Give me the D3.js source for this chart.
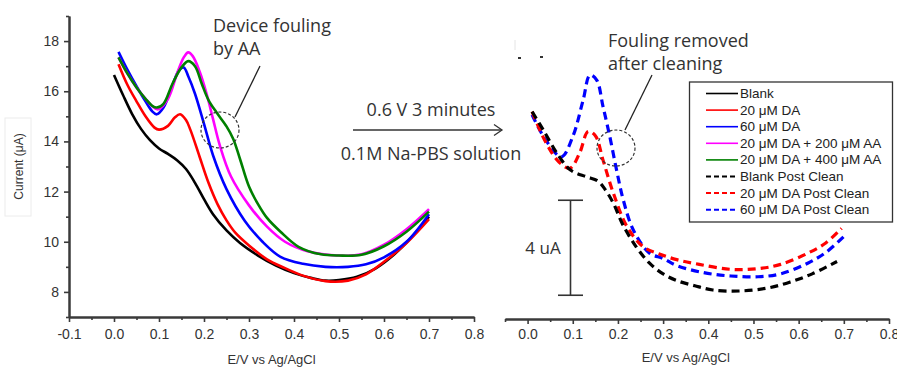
<!DOCTYPE html>
<html>
<head>
<meta charset="utf-8">
<script src="https://cdn.jsdelivr.net/npm/d3@7"></script>
<style>
  body { margin: 0; background: #fff; }
  svg { display: block; }
</style>
</head>
<body>
<svg id="chart" width="897" height="368"></svg>
<script>
// ---- Cyclic voltammetry data: potential (V vs Ag/AgCl) and current (µA) ----

// Before cleaning (solid lines)
const blankE = [0.00, 0.02, 0.04, 0.06, 0.08, 0.10, 0.12, 0.14, 0.16, 0.18, 0.20, 0.22, 0.25, 0.28, 0.32, 0.36, 0.40, 0.44, 0.47, 0.50, 0.54, 0.58, 0.62, 0.66, 0.70];
const blankI = [16.65, 15.85, 15.1, 14.5, 14.05, 13.72, 13.5, 13.25, 12.9, 12.35, 11.7, 11.1, 10.45, 9.95, 9.45, 9.05, 8.75, 8.55, 8.45, 8.47, 8.6, 8.92, 9.45, 10.15, 11.0];

const da20E = [0.01, 0.03, 0.05, 0.07, 0.09, 0.10, 0.12, 0.135, 0.147, 0.16, 0.17, 0.19, 0.21, 0.23, 0.25, 0.27, 0.30, 0.34, 0.38, 0.42, 0.47, 0.52, 0.56, 0.60, 0.65, 0.70];
const da20I = [17.08, 16.25, 15.6, 15.0, 14.55, 14.47, 14.62, 14.95, 15.08, 14.85, 14.45, 13.4, 12.35, 11.5, 10.85, 10.35, 9.85, 9.3, 8.95, 8.65, 8.43, 8.45, 8.7, 9.2, 9.95, 10.9];

const da60E = [0.01, 0.03, 0.05, 0.07, 0.085, 0.095, 0.11, 0.13, 0.145, 0.155, 0.165, 0.18, 0.20, 0.22, 0.25, 0.29, 0.33, 0.37, 0.42, 0.47, 0.52, 0.56, 0.60, 0.65, 0.70];
const da60I = [17.57, 16.85, 16.2, 15.6, 15.2, 15.08, 15.35, 16.25, 16.85, 16.95, 16.6, 15.9, 14.7, 13.45, 12.1, 10.85, 10.0, 9.4, 9.12, 9.0, 9.0, 9.1, 9.38, 10.0, 11.1];

const aa200E = [0.01, 0.03, 0.05, 0.07, 0.085, 0.098, 0.12, 0.14, 0.155, 0.165, 0.175, 0.19, 0.205, 0.22, 0.235, 0.26, 0.30, 0.34, 0.38, 0.43, 0.50, 0.55, 0.60, 0.65, 0.70];
const aa200I = [17.35, 16.7, 16.15, 15.7, 15.4, 15.28, 15.7, 16.7, 17.35, 17.55, 17.4, 16.8, 15.95, 14.9, 13.85, 12.6, 11.45, 10.6, 10.0, 9.62, 9.45, 9.5, 9.88, 10.5, 11.3];

const aa400E = [0.01, 0.03, 0.05, 0.07, 0.085, 0.095, 0.11, 0.13, 0.15, 0.165, 0.18, 0.195, 0.21, 0.228, 0.25, 0.265, 0.28, 0.30, 0.32, 0.34, 0.37, 0.41, 0.46, 0.50, 0.55, 0.60, 0.65, 0.70];
const aa400I = [17.35, 16.7, 16.15, 15.7, 15.42, 15.35, 15.5, 16.3, 16.95, 17.2, 17.0, 16.3, 15.65, 15.15, 14.6, 14.1, 13.3, 12.2, 11.5, 10.95, 10.4, 9.8, 9.5, 9.45, 9.48, 9.82, 10.4, 11.2];

// After 0.6 V cleaning (dashed lines)
const blankPostE = [0.01, 0.035, 0.065, 0.095, 0.13, 0.155, 0.17, 0.19, 0.21, 0.24, 0.27, 0.30, 0.33, 0.37, 0.41, 0.47, 0.53, 0.58, 0.63, 0.685];
const blankPostI = [15.73, 14.95, 13.98, 13.27, 12.99, 12.82, 12.5, 11.87, 11.0, 10.05, 9.35, 8.9, 8.62, 8.4, 8.22, 8.18, 8.3, 8.55, 8.9, 9.42];

const da20PostE = [0.01, 0.04, 0.07, 0.094, 0.115, 0.134, 0.15, 0.167, 0.19, 0.22, 0.256, 0.29, 0.33, 0.38, 0.45, 0.51, 0.56, 0.62, 0.66, 0.695];
const da20PostI = [15.73, 14.45, 13.6, 13.35, 13.98, 14.89, 14.72, 13.69, 12.29, 10.89, 10.04, 9.75, 9.5, 9.3, 9.09, 9.12, 9.3, 9.77, 10.2, 10.82];

const da60PostE = [0.01, 0.04, 0.075, 0.10, 0.123, 0.138, 0.153, 0.167, 0.182, 0.197, 0.212, 0.234, 0.27, 0.30, 0.33, 0.39, 0.45, 0.51, 0.56, 0.62, 0.66, 0.70];
const da60PostI = [15.6, 14.54, 13.83, 14.68, 16.22, 17.27, 17.06, 15.94, 14.68, 13.27, 12.0, 10.75, 9.77, 9.55, 9.25, 8.95, 8.81, 8.78, 8.9, 9.35, 9.8, 10.47];

// Axis ticks
const xMajorTicks = [-0.1, 0.0, 0.1, 0.2, 0.3, 0.4, 0.5, 0.6, 0.7, 0.8];
const xTickLabels = ["-0.1", "0.0", "0.1", "0.2", "0.3", "0.4", "0.5", "0.6", "0.7", "0.8"];
const xMinorTicks = [-0.05, 0.05, 0.15, 0.25, 0.35, 0.45, 0.55, 0.65, 0.75];
const yMajorTicks = [8, 10, 12, 14, 16, 18];
const yMinorTicks = [7, 9, 11, 13, 15, 17, 19];

// Legend entries
const legendLabels = ["Blank", "20 μM DA", "60 μM DA", "20 μM DA + 200 μM AA", "20 μM DA + 400 μM AA",
                      "Blank Post Clean", "20 μM DA Post Clean", "60 μM DA Post Clean"];
const legendColors = ["#000000", "#ff0000", "#0000ff", "#ff00ff", "#008000", "#000000", "#ff0000", "#0000ff"];
const legendDashed = [false, false, false, false, false, true, true, true];

// Scale bar value (µA)
const scaleBarFrom = 8, scaleBarTo = 12;

// ---- Drawing ----
const svg = d3.select("#chart");
const axisColor = "#3a3a3a";
const textColor = "#333";
const tickFont = "'Liberation Sans', Arial, sans-serif";
const noteFont = "'Open Sans', 'Noto Sans', sans-serif";
const noteSize = "18px";

const xL = d3.scaleLinear().domain([-0.1, 0.8]).range([69, 474]);
const yL = d3.scaleLinear().domain([7, 19]).range([317, 16]);
const xR = d3.scaleLinear().domain([-0.05, 0.8]).range([505, 889]);
const yR = d3.scaleLinear().domain([7, 19]).range([319, 34]);

function styleAxis(g, fontSize) {
  g.select(".domain").attr("stroke", axisColor).attr("stroke-width", 2);
  g.selectAll(".tick line").attr("stroke", axisColor).attr("stroke-width", 1.6);
  g.selectAll(".tick text").attr("fill", textColor)
    .style("font-family", tickFont).style("font-size", fontSize + "px");
}

// Left panel: x axis
const xAxisL = svg.append("g").attr("transform", `translate(0,${yL(7)})`)
  .call(d3.axisBottom(xL).tickValues(xMajorTicks).tickSize(5).tickSizeOuter(0).tickPadding(7)
    .tickFormat((d, i) => xTickLabels[i]));
styleAxis(xAxisL, 14);
const xMinorL = svg.append("g").attr("transform", `translate(0,${yL(7)})`)
  .call(d3.axisBottom(xL).tickValues(xMinorTicks).tickSize(3).tickSizeOuter(0).tickFormat(""));
styleAxis(xMinorL, 14);

// Left panel: y axis
const yAxisL = svg.append("g").attr("transform", `translate(${xL(-0.1)},0)`)
  .call(d3.axisLeft(yL).tickValues(yMajorTicks).tickSize(5).tickSizeOuter(0).tickPadding(5));
styleAxis(yAxisL, 14);
const yMinorL = svg.append("g").attr("transform", `translate(${xL(-0.1)},0)`)
  .call(d3.axisLeft(yL).tickValues(yMinorTicks).tickSize(3).tickSizeOuter(0).tickFormat(""));
styleAxis(yMinorL, 14);

// Right panel: x axis only
const xAxisR = svg.append("g").attr("transform", `translate(0,${yR(7)})`)
  .call(d3.axisBottom(xR).tickValues(xMajorTicks.slice(1)).tickSize(5).tickSizeOuter(0).tickPadding(5)
    .tickFormat((d, i) => xTickLabels[i + 1]));
styleAxis(xAxisR, 14);
const xMinorR = svg.append("g").attr("transform", `translate(0,${yR(7)})`)
  .call(d3.axisBottom(xR).tickValues(xMinorTicks).tickSize(3).tickSizeOuter(0).tickFormat(""));
styleAxis(xMinorR, 14);

// Axis titles
svg.append("text").attr("x", (xL(-0.1) + xL(0.8)) / 2).attr("y", 364)
  .attr("text-anchor", "middle").attr("fill", textColor)
  .style("font-family", tickFont).style("font-size", "13px").text("E/V vs Ag/AgCl");
svg.append("text").attr("x", xR(0.35)).attr("y", 362)
  .attr("text-anchor", "middle").attr("fill", textColor)
  .style("font-family", tickFont).style("font-size", "13px").text("E/V vs Ag/AgCl");

svg.append("rect").attr("x", 5).attr("y", 118).attr("width", 26).attr("height", 98)
  .attr("fill", "none").attr("stroke", "#ececec").attr("stroke-width", 1);
svg.append("text").attr("transform", `translate(23,${(yL(7) + yL(19)) / 2}) rotate(-90)`)
  .attr("text-anchor", "middle").attr("fill", textColor)
  .style("font-family", tickFont).style("font-size", "12px").text("Current (μA)");

// Curves
function drawCurve(xs, ys, E, I, color, dashed) {
  const pts = E.map((e, i) => [e, I[i]]);
  const line = d3.line().x(d => xs(d[0])).y(d => ys(d[1])).curve(d3.curveCatmullRom.alpha(0.5));
  svg.append("path").datum(pts).attr("d", line)
    .attr("fill", "none").attr("stroke", color)
    .attr("stroke-width", dashed ? 3.2 : 2.6)
    .attr("stroke-linejoin", "round")
    .attr("stroke-dasharray", dashed ? "8,5" : null);
}

drawCurve(xL, yL, blankE, blankI, legendColors[0], false);
drawCurve(xL, yL, da20E, da20I, legendColors[1], false);
drawCurve(xL, yL, da60E, da60I, legendColors[2], false);
drawCurve(xL, yL, aa200E, aa200I, legendColors[3], false);
drawCurve(xL, yL, aa400E, aa400I, legendColors[4], false);

drawCurve(xR, yR, da60PostE, da60PostI, legendColors[7], true);
drawCurve(xR, yR, da20PostE, da20PostI, legendColors[6], true);
drawCurve(xR, yR, blankPostE, blankPostI, legendColors[5], true);

// Annotations: fouling before cleaning
svg.append("ellipse").attr("cx", 220).attr("cy", 130).attr("rx", 19).attr("ry", 18)
  .attr("fill", "none").attr("stroke", "#333").attr("stroke-width", 1.2).attr("stroke-dasharray", "3,2");
svg.append("line").attr("x1", 235).attr("y1", 117).attr("x2", 260).attr("y2", 66)
  .attr("stroke", "#222").attr("stroke-width", 1.3);
svg.append("text").attr("x", 213).attr("y", 32).attr("fill", textColor)
  .style("font-family", noteFont).style("font-size", noteSize).text("Device fouling");
svg.append("text").attr("x", 213).attr("y", 55).attr("fill", textColor)
  .style("font-family", noteFont).style("font-size", noteSize).text("by AA");

// Treatment arrow
svg.append("line").attr("x1", 353).attr("y1", 130).attr("x2", 502).attr("y2", 130)
  .attr("stroke", "#333").attr("stroke-width", 1.3);
svg.append("path").attr("d", "M494,124.5 L502,130 L494,135.5")
  .attr("fill", "none").attr("stroke", "#333").attr("stroke-width", 1.3);
svg.append("text").attr("x", 431).attr("y", 116).attr("text-anchor", "middle").attr("fill", textColor)
  .style("font-family", noteFont).style("font-size", noteSize).text("0.6 V 3 minutes");
svg.append("text").attr("x", 431).attr("y", 160).attr("text-anchor", "middle").attr("fill", textColor)
  .style("font-family", noteFont).style("font-size", noteSize).text("0.1M Na-PBS solution");

// Small stray marks above the right panel
svg.append("line").attr("x1", 515).attr("y1", 40).attr("x2", 515).attr("y2", 50)
  .attr("stroke", "#e4e4e4").attr("stroke-width", 1);
svg.append("rect").attr("x", 518).attr("y", 57).attr("width", 3).attr("height", 2).attr("fill", "#333");
svg.append("rect").attr("x", 540).attr("y", 56).attr("width", 3).attr("height", 2).attr("fill", "#333");

// Annotations: after cleaning
svg.append("ellipse").attr("cx", 616).attr("cy", 148).attr("rx", 19).attr("ry", 18)
  .attr("fill", "none").attr("stroke", "#333").attr("stroke-width", 1.2).attr("stroke-dasharray", "3,2");
svg.append("line").attr("x1", 625).attr("y1", 130).attr("x2", 652).attr("y2", 75)
  .attr("stroke", "#222").attr("stroke-width", 1.3);
svg.append("text").attr("x", 608).attr("y", 47).attr("fill", textColor)
  .style("font-family", noteFont).style("font-size", noteSize).text("Fouling removed");
svg.append("text").attr("x", 608).attr("y", 70).attr("fill", textColor)
  .style("font-family", noteFont).style("font-size", noteSize).text("after cleaning");

// Scale bar
const sbX = 570.5;
svg.append("line").attr("x1", sbX).attr("x2", sbX).attr("y1", yR(scaleBarFrom)).attr("y2", yR(scaleBarTo))
  .attr("stroke", "#333").attr("stroke-width", 1.6);
[scaleBarFrom, scaleBarTo].forEach(v => {
  svg.append("line").attr("x1", sbX - 12.5).attr("x2", sbX + 12.5).attr("y1", yR(v)).attr("y2", yR(v))
    .attr("stroke", "#333").attr("stroke-width", 1.6);
});
svg.append("text").attr("x", 543).attr("y", yR((scaleBarFrom + scaleBarTo) / 2) + 6)
  .attr("text-anchor", "middle").attr("fill", textColor)
  .style("font-family", noteFont).style("font-size", "17px").text((scaleBarTo - scaleBarFrom) + " uA");

// Legend
const lg = svg.append("g");
lg.append("rect").attr("x", 689.5).attr("y", 82).attr("width", 203).attr("height", 140)
  .attr("fill", "#fff").attr("stroke", "#333").attr("stroke-width", 1.3);
legendLabels.forEach((label, i) => {
  const y = 93.5 + i * 16.6;
  lg.append("line").attr("x1", 706).attr("x2", 738).attr("y1", y).attr("y2", y)
    .attr("stroke", legendColors[i]).attr("stroke-width", legendDashed[i] ? 2 : 1.6)
    .attr("stroke-dasharray", legendDashed[i] ? "5,3" : null);
  lg.append("text").attr("x", 740).attr("y", y + 4.5).attr("fill", "#222")
    .style("font-family", tickFont).style("font-size", "13.5px").text(label);
});
</script>
</body>
</html>
